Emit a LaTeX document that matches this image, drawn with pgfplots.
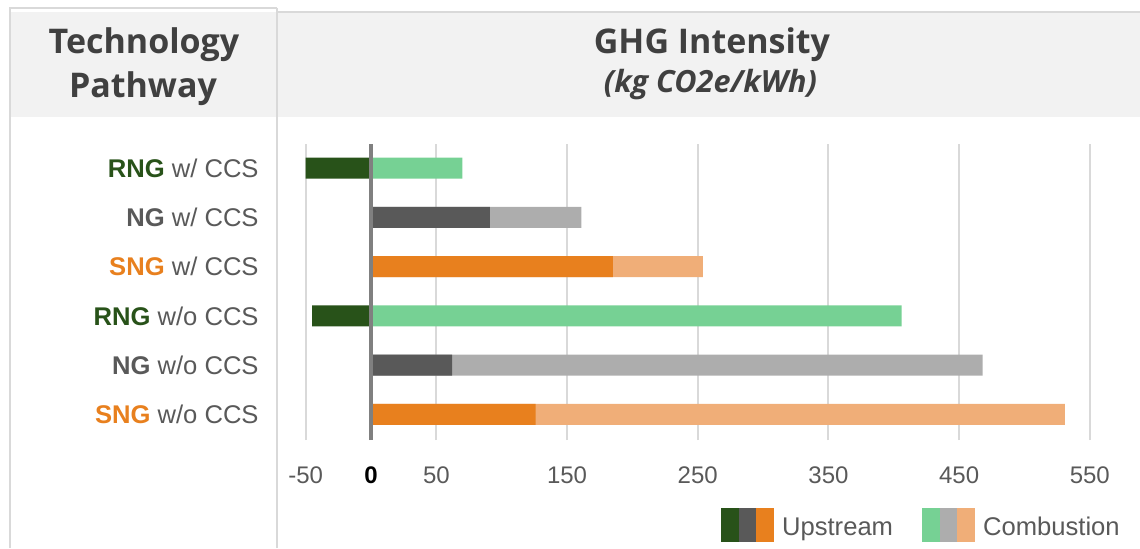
\documentclass[border=0pt]{standalone}
\usepackage{fontspec}
\setmainfont{Liberation Sans}
\newfontfamily\headfont{Open Sans}
\usepackage{pgfplots}
\pgfplotsset{compat=1.18}
\definecolor{dgreen}{HTML}{285219}
\definecolor{lgreen}{HTML}{76D194}
\definecolor{dgray}{HTML}{595959}
\definecolor{lgray}{HTML}{ADADAD}
\definecolor{dorange}{HTML}{E8801E}
\definecolor{lorange}{HTML}{F0AE78}
\definecolor{band}{HTML}{F2F2F2}
\definecolor{border}{HTML}{D9D9D9}
\definecolor{headtext}{HTML}{404040}
\definecolor{labtext}{HTML}{595959}
\definecolor{zeroline}{HTML}{808080}

\begin{document}
\begin{tikzpicture}
\path[use as bounding box] (0,0) rectangle (570pt,274pt);
% header band and table frame
\fill[band] (5pt,215.5pt) rectangle (570pt,268pt);
\draw[border, line width=1pt] (5pt,0) -- (5pt,269.85pt) -- (138.25pt,269.85pt);
\draw[border, line width=1pt] (138.25pt,268pt) -- (570pt,268pt);
\draw[border, line width=1pt] (138.25pt,0) -- (138.25pt,269.85pt);
% headers
\node[anchor=base, text=headtext, inner sep=0pt, font=\headfont\bfseries\fontsize{17}{20}\selectfont] at (72pt,247.5pt) {Technology};
\node[anchor=base, text=headtext, inner sep=0pt, font=\headfont\bfseries\fontsize{17}{20}\selectfont] at (71.5pt,225.5pt) {Pathway};
\node[anchor=base, text=headtext, inner sep=0pt, font=\headfont\bfseries\fontsize{17}{20}\selectfont] at (356pt,247.5pt) {GHG Intensity};
\node[anchor=base, text=headtext, inner sep=0pt, font=\headfont\bfseries\itshape\fontsize{15.3}{18}\selectfont] at (355.25pt,228pt) {(kg CO2e/kWh)};

\begin{axis}[
  at={(146.3pt,54pt)}, anchor=south west,
  scale only axis, width=408.4pt, height=148pt,
  xmin=-60, xmax=565, ymin=0.48, ymax=6.49,
  xbar, bar width=10.5pt, bar shift=0pt,
  axis line style={draw=none},
  major tick length=0pt,
  xtick={-50,0,50,150,250,350,450,550},
  xticklabels={-50,{\color{black}\bfseries 0},50,150,250,350,450,550},
  xticklabel style={font=\fontsize{12}{14}\selectfont, text=labtext, anchor=center, inner sep=0pt, yshift=-17.75pt},
  xmajorgrids, grid style={border, line width=1pt},
  ytick={1,2,3,4,5,6},
  yticklabels={
    {\textcolor{dorange}{\bfseries SNG} w/o CCS},
    {\textcolor{dgray}{\bfseries NG} w/o CCS},
    {\textcolor{dgreen}{\bfseries RNG} w/o CCS},
    {\textcolor{dorange}{\bfseries SNG} w/ CCS},
    {\textcolor{dgray}{\bfseries NG} w/ CCS},
    {\textcolor{dgreen}{\bfseries RNG} w/ CCS}},
  yticklabel style={font=\fontsize{12.8}{15}\selectfont, text=labtext, anchor=east, inner sep=0pt, xshift=-16.8pt},
  clip=false,
]
% combustion (bars drawn to the total = upstream + combustion; RNG combustion starts at 0)
\addplot[fill=lgreen, draw=none] coordinates {(70,6) (406,3)};
\addplot[fill=lgray, draw=none] coordinates {(161,5) (468,2)};
\addplot[fill=lorange, draw=none] coordinates {(254,4) (531,1)};
% upstream
\addplot[fill=dgreen, draw=none] coordinates {(-50,6) (-45,3)};
\addplot[fill=dgray, draw=none] coordinates {(91,5) (62,2)};
\addplot[fill=dorange, draw=none] coordinates {(185,4) (126,1)};
\draw[zeroline, line width=1.6pt] (axis cs:0,0.48) -- (axis cs:0,6.49);
\end{axis}

% legend
\fill[dgreen]  (360.35pt,3.15pt) rectangle ++(8.9pt,16.85pt);
\fill[dgray]   (369.25pt,3.15pt) rectangle ++(8.9pt,16.85pt);
\fill[dorange] (378.15pt,3.15pt) rectangle ++(8.9pt,16.85pt);
\node[anchor=base west, inner sep=0pt, text=labtext, font=\fontsize{12.8}{15}\selectfont] at (390.85pt,6.5pt) {Upstream};
\fill[lgreen]  (460.85pt,3.15pt) rectangle ++(8.9pt,16.85pt);
\fill[lgray]   (469.75pt,3.15pt) rectangle ++(8.9pt,16.85pt);
\fill[lorange] (478.65pt,3.15pt) rectangle ++(8.9pt,16.85pt);
\node[anchor=base west, inner sep=0pt, text=labtext, font=\fontsize{12.8}{15}\selectfont] at (491.35pt,6.5pt) {Combustion};
\end{tikzpicture}
\end{document}
